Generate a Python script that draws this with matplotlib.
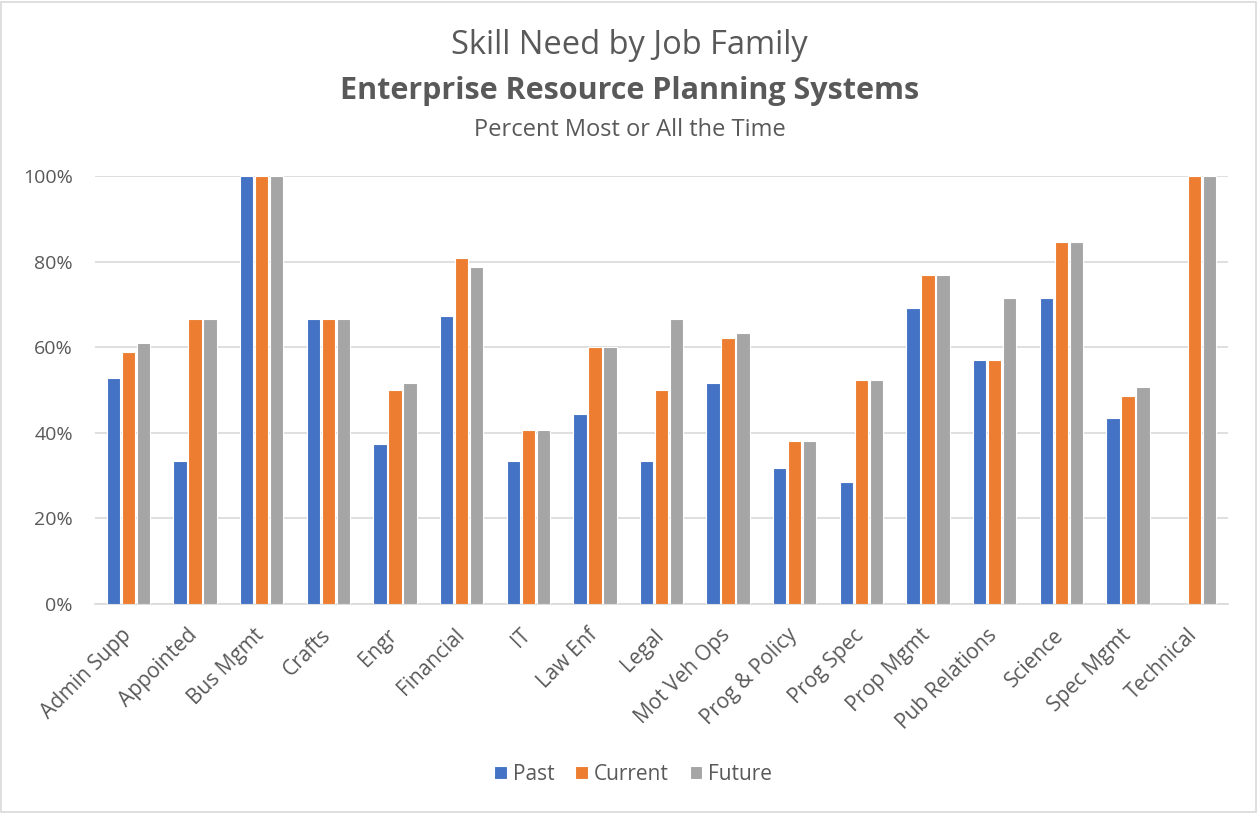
import numpy as np
import matplotlib.pyplot as plt
import matplotlib.transforms as mtransforms
from matplotlib.patches import Rectangle

plt.rcParams['font.family'] = ['Open Sans', 'DejaVu Sans']

families = ['Admin Supp', 'Appointed', 'Bus Mgmt', 'Crafts', 'Engr', 'Financial',
            'IT', 'Law Enf', 'Legal', 'Mot Veh Ops', 'Prog & Policy', 'Prog Spec',
            'Prop Mgmt', 'Pub Relations', 'Science', 'Spec Mgmt', 'Technical']
past = [52.9, 33.3, 100, 66.7, 37.5, 67.3, 33.3, 44.4, 33.3, 51.6, 31.8, 28.6,
        69.2, 57.1, 71.4, 43.5, 0]
current = [58.8, 66.7, 100, 66.7, 50.0, 80.8, 40.7, 60.0, 50.0, 62.2, 38.2, 52.4,
           76.9, 57.1, 84.6, 48.7, 100]
future = [61.0, 66.7, 100, 66.7, 51.6, 78.8, 40.7, 60.0, 66.7, 63.3, 38.2, 52.4,
          76.9, 71.4, 84.6, 50.6, 100]
series = [('Past', past, '#4472C4'), ('Current', current, '#ED7D31'),
          ('Future', future, '#A5A5A5')]

text_col = '#595959'

fig = plt.figure(figsize=(12.59, 8.13), dpi=100)
ax = fig.add_axes([95 / 1259, 1 - 604 / 813, (1228 - 95) / 1259, (604 - 176) / 813])

x = np.arange(len(families))
step = 0.225
for i, (name, vals, col) in enumerate(series):
    ax.bar(x + (i - 1) * step, vals, width=0.2, color=col, edgecolor='white',
           linewidth=0.8, label=name, zorder=3)

ax.set_xlim(-0.5, len(families) - 0.5)
ax.set_ylim(0, 100)
ax.set_yticks(range(0, 101, 20))
ax.set_yticklabels([f'{v}%' for v in range(0, 101, 20)], fontsize=14, color=text_col)
ax.yaxis.grid(True, color='#D9D9D9', linewidth=1.2, zorder=0)
ax.set_xticks(x)
ax.set_xticklabels(families, rotation=45, ha='right', rotation_mode='anchor',
                   fontsize=15, color=text_col)
ax.tick_params(axis='y', length=0, pad=16)
ax.tick_params(axis='x', length=0, pad=15)
# nudge the slanted category names so their ends sit under the groups
shift = mtransforms.ScaledTranslation(-0.08, 0, fig.dpi_scale_trans)
for lab in ax.get_xticklabels():
    lab.set_transform(lab.get_transform() + shift)
for s in ['top', 'right', 'left']:
    ax.spines[s].set_visible(False)
ax.spines['bottom'].set_color('#D9D9D9')
ax.spines['bottom'].set_linewidth(1.2)

fig.text(0.5, 1 - 46 / 813, 'Skill Need by Job Family', ha='center', va='center',
         fontsize=23.5, color=text_col)
fig.text(0.5, 1 - 91 / 813, 'Enterprise Resource Planning Systems', ha='center',
         va='center', fontsize=22, fontweight='bold', color=text_col)
fig.text(0.5, 1 - 130 / 813, 'Percent Most or All the Time', ha='center', va='center',
         fontsize=17, color=text_col)

leg = fig.legend(loc='center', bbox_to_anchor=(0.503, 1 - 774 / 813), ncol=3,
                 frameon=False, fontsize=15, handlelength=0.6, handleheight=0.6,
                 columnspacing=1.0, handletextpad=0.3)
for t in leg.get_texts():
    t.set_color(text_col)

fig.patches.append(Rectangle((0.001, 0.001), 0.997, 0.997, transform=fig.transFigure,
                             fill=False, edgecolor='#D9D9D9', linewidth=1.2))

fig.savefig('out.png', dpi=100)
